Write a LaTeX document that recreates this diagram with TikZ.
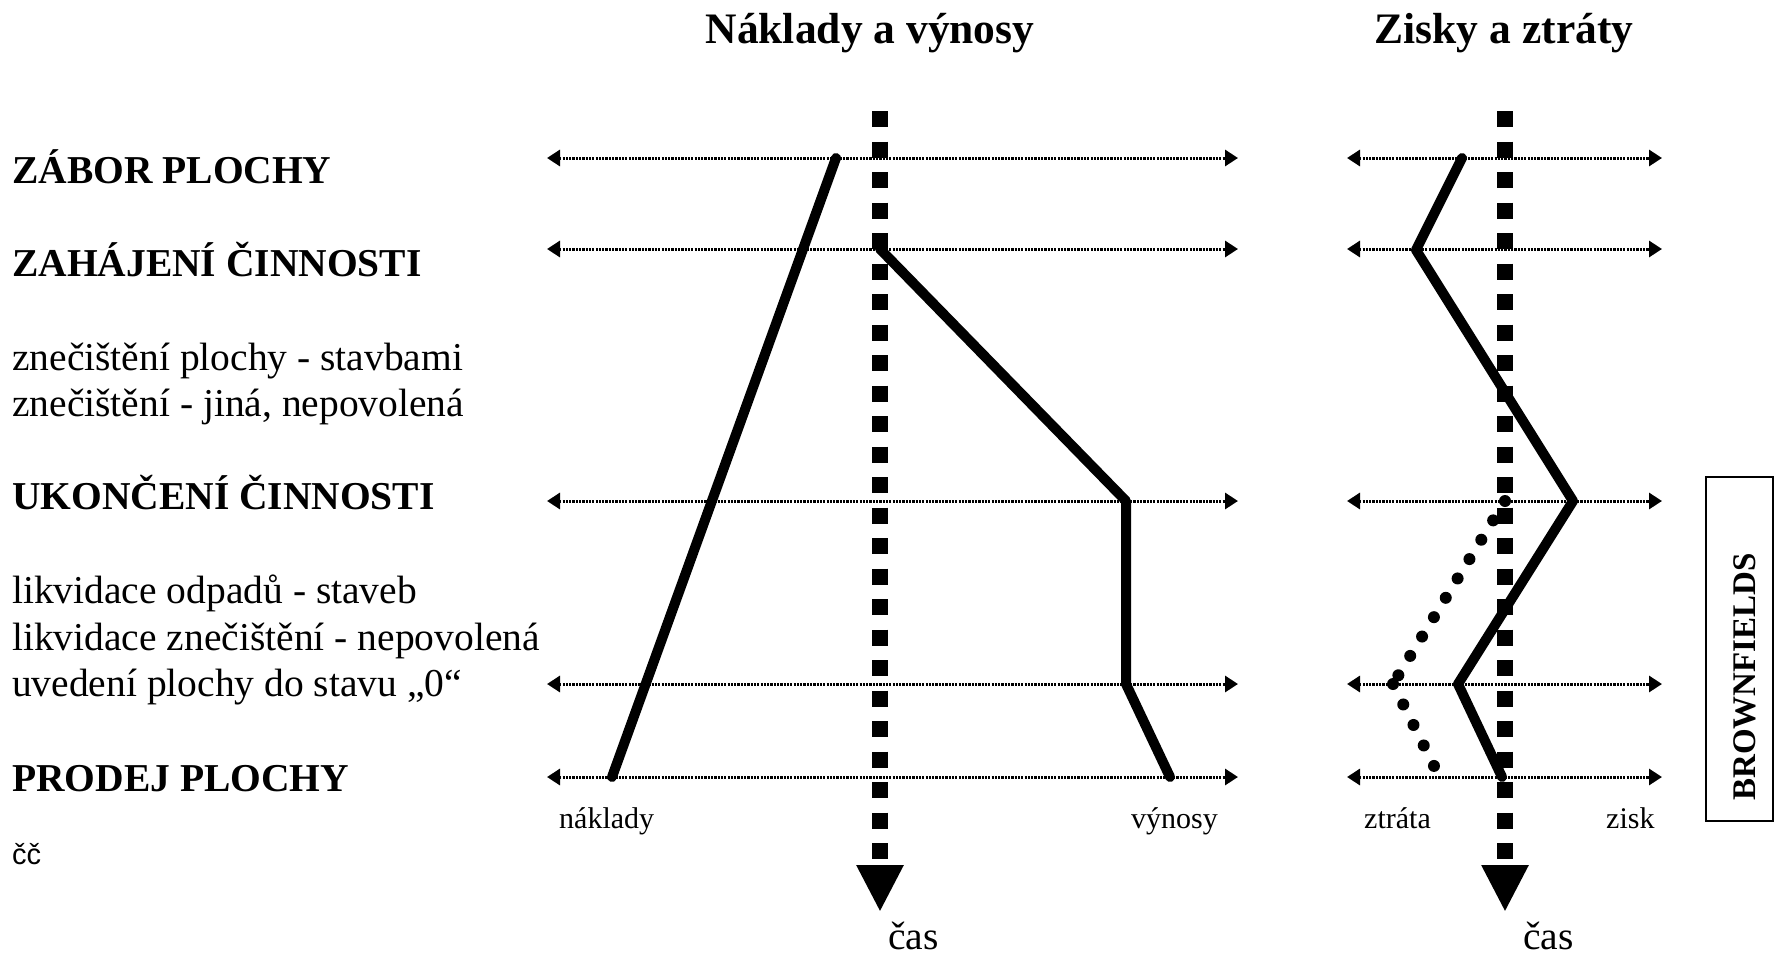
\documentclass[tikz,border=0pt]{standalone}
\usepackage{fontspec}
\setmainfont{Liberation Serif}
\newfontfamily\sansf{Liberation Sans}
\usetikzlibrary{arrows.meta}
\begin{document}
\begin{tikzpicture}[x=1pt,y=-1pt,
  axisline/.style={line width=16pt, dash pattern=on 16pt off 14.5pt, -{Triangle[length=47pt,width=44pt]}},
  rowline/.style={line width=3pt, dash pattern=on 2.2pt off 1.1pt, {Triangle[length=13pt,width=16pt]}-{Triangle[length=13pt,width=16pt]}},
  curve/.style={line width=10pt, line cap=round, line join=round},
  dotcurve/.style={line width=12pt, line cap=round},
  lbl/.style={anchor=base west, inner sep=0pt, font=\fontsize{39.5}{46}\selectfont},
  blbl/.style={anchor=base west, inner sep=0pt, font=\fontsize{39.5}{46}\selectfont\bfseries},
  ttl/.style={anchor=base, inner sep=0pt, font=\fontsize{43.5}{50}\selectfont\bfseries},
  axlbl/.style={anchor=base west, inner sep=0pt, font=\fontsize{30}{36}\selectfont},
]
\useasboundingbox (0,0) rectangle (1778,956);

% titles
\node[ttl] (t1) at (870,43) {Náklady a výnosy};
\node[ttl] (t2) at (1504,43) {Zisky a ztráty};

% left labels
\node[blbl] (l1) at (12,183) {ZÁBOR PLOCHY};
\node[blbl] (l2) at (12,276) {ZAHÁJENÍ ČINNOSTI};
\node[lbl] (l3) at (12,370) {znečištění plochy - stavbami};
\node[lbl] (l4) at (12,416) {znečištění - jiná, nepovolená};
\node[blbl] (l5) at (12,509) {UKONČENÍ ČINNOSTI};
\node[lbl] (l6) at (12,603) {likvidace odpadů - staveb};
\node[lbl] (l7) at (12,650) {likvidace znečištění - nepovolená};
\node[lbl] (l8) at (12,696) {uvedení plochy do stavu „0“};
\node[blbl] (l9) at (12,791) {PRODEJ PLOCHY};
\node[anchor=base west, inner sep=0pt, font=\sansf\fontsize{29}{34}\selectfont] (l10) at (12,864) {čč};

% row coordinates
\foreach \n/\y in {1/158,2/249,3/501,4/684,5/777}{
  \coordinate (aL\n) at (547,\y);
  \coordinate (aR\n) at (1238,\y);
  \coordinate (bL\n) at (1347,\y);
  \coordinate (bR\n) at (1662,\y);
}
\foreach \n in {1,...,5}{
  \draw[rowline] (aL\n) -- (aR\n);
  \draw[rowline] (bL\n) -- (bR\n);
}

% time axes
\coordinate (ta1) at (880,111);
\coordinate (ta2) at (880,912);
\coordinate (tb1) at (1505,111);
\coordinate (tb2) at (1505,912);
\draw[axisline] (ta1) -- (ta2);
\draw[axisline] (tb1) -- (tb2);

% left curves
\coordinate (n1) at (836,158);
\coordinate (n2) at (612,777);
\draw[curve] (n1) -- (n2);
\coordinate (v1) at (880,249);
\coordinate (v2) at (1126,501);
\coordinate (v3) at (1126,684);
\coordinate (v4) at (1170,777);
\draw[curve] (v1) -- (v2) -- (v3) -- (v4);

% right curves
\coordinate (z1) at (1462,158);
\coordinate (z2) at (1416,250);
\coordinate (z3) at (1573,501);
\coordinate (z4) at (1458,684);
\coordinate (z5) at (1502,777);
\draw[curve] (z1) -- (z2) -- (z3) -- (z4) -- (z5);
\coordinate (d1) at (1505,501);
\coordinate (d2) at (1393,684);
\coordinate (d3) at (1434,766);
\draw[dotcurve, dash pattern=on 0pt off 22.7pt] (d1) -- (d2);
\draw[dotcurve, dash pattern=on 0pt off 22.9pt] (d2) -- (d3);

% axis labels
\node[axlbl] (x1) at (559,828) {náklady};
\node[axlbl] (x2) at (1131,828) {výnosy};
\node[axlbl] (x3) at (1364,828) {ztráta};
\node[axlbl] (x4) at (1606,828) {zisk};
\node[lbl, text depth=0pt] (c1) at (888,949) {čas};
\node[lbl, text depth=0pt] (c2) at (1523,949) {čas};

% brownfields box
\node[draw, line width=1.5pt, minimum width=67pt, minimum height=344pt, inner sep=0pt] (bfbox) at (1739.5,649) {};
\node[anchor=base, rotate=90, inner sep=0pt, font=\fontsize{33}{40}\selectfont\bfseries] (bf) at (1755,677) {BROWNFIELDS};
\end{tikzpicture}
\end{document}
